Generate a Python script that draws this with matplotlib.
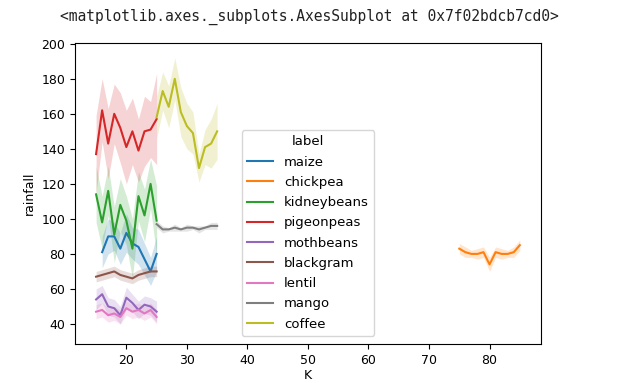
import matplotlib
matplotlib.use("Agg")
import matplotlib.pyplot as plt
import numpy as np

# ---- data ----
k_low = [15, 16, 17, 18, 19, 20, 21, 22, 23, 24, 25]
k_maize = [16, 17, 18, 19, 20, 21, 22, 23, 24, 25]
k_mid = [25, 26, 27, 28, 29, 30, 31, 32, 33, 34, 35]
k_high = [75, 76, 77, 78, 79, 80, 81, 82, 83, 84, 85]

labels = ["maize", "chickpea", "kidneybeans", "pigeonpeas", "mothbeans",
          "blackgram", "lentil", "mango", "coffee"]

maize = [81, 90, 90, 83, 92, 86, 84, 77, 70, 80]
maize_err = [9, 10, 8, 9, 11, 9, 10, 9, 8, 10]

chickpea = [83, 81, 80, 80, 81, 74, 81, 80, 80, 81, 85]
chickpea_err = [3, 3, 2, 3, 3, 4, 3, 3, 2, 3, 3]

kidneybeans = [114, 98, 116, 91, 108, 99, 83, 113, 102, 120, 99]
kidneybeans_err = [16, 15, 14, 16, 15, 14, 17, 14, 15, 14, 20]

pigeonpeas = [137, 162, 143, 160, 152, 141, 150, 139, 150, 151, 157]
pigeonpeas_err = [22, 18, 20, 17, 20, 21, 19, 18, 20, 16, 26]

mothbeans = [54, 57, 50, 49, 45, 55, 52, 48, 51, 50, 47]
mothbeans_err = [6, 5, 5, 5, 5, 6, 5, 5, 5, 5, 6]

blackgram = [67, 68, 69, 70, 68, 67, 66, 68, 69, 70, 70]
blackgram_err = [3, 3, 3, 3, 3, 3, 3, 3, 3, 3, 3]

lentil = [47, 48, 45, 46, 44, 49, 47, 48, 46, 48, 44]
lentil_err = [4, 4, 4, 4, 4, 4, 4, 4, 4, 4, 4]

mango = [97, 94, 94, 95, 94, 95, 95, 94, 95, 96, 96]
mango_err = [2, 2, 1, 2, 1, 2, 1, 2, 1, 2, 2]

coffee = [158, 173, 164, 180, 161, 153, 149, 129, 141, 143, 150]
coffee_err = [12, 11, 12, 12, 14, 13, 12, 8, 10, 14, 16]

series = [
    (k_maize, maize, maize_err),
    (k_high, chickpea, chickpea_err),
    (k_low, kidneybeans, kidneybeans_err),
    (k_low, pigeonpeas, pigeonpeas_err),
    (k_low, mothbeans, mothbeans_err),
    (k_low, blackgram, blackgram_err),
    (k_low, lentil, lentil_err),
    (k_mid, mango, mango_err),
    (k_mid, coffee, coffee_err),
]

colors = plt.get_cmap("tab10").colors

fig = plt.figure(figsize=(6.19, 3.83), dpi=100)
ax = fig.add_axes([0.121, 0.102, 0.753, 0.786])

for i, (lab, (xs, ys, es)) in enumerate(zip(labels, series)):
    xs = np.asarray(xs, float)
    ys = np.asarray(ys, float)
    es = np.asarray(es, float)
    ax.fill_between(xs, ys - es, ys + es, color=colors[i], alpha=0.2, linewidth=0)
    ax.plot(xs, ys, color=colors[i], linewidth=1.5, label=lab)

ax.set_xlim(11.5, 88.5)
ax.set_ylim(28.6, 200.5)
ax.set_yticks([40, 60, 80, 100, 120, 140, 160, 180, 200])
ax.set_xticks([20, 30, 40, 50, 60, 70, 80])
ax.tick_params(labelsize=9)
ax.set_xlabel("K", fontsize=9, labelpad=2)
ax.set_ylabel("rainfall", fontsize=9)

leg = ax.legend(title="label", loc="lower center", fontsize=9.5, title_fontsize=9.5,
                labelspacing=0.55, borderaxespad=0.6)

fig.text(0.5, 0.955, "<matplotlib.axes._subplots.AxesSubplot at 0x7f02bdcb7cd0>",
         family="DejaVu Sans Mono", fontsize=10.5, ha="center", va="center", color="#222222")

fig.savefig("out.png", dpi=100)
